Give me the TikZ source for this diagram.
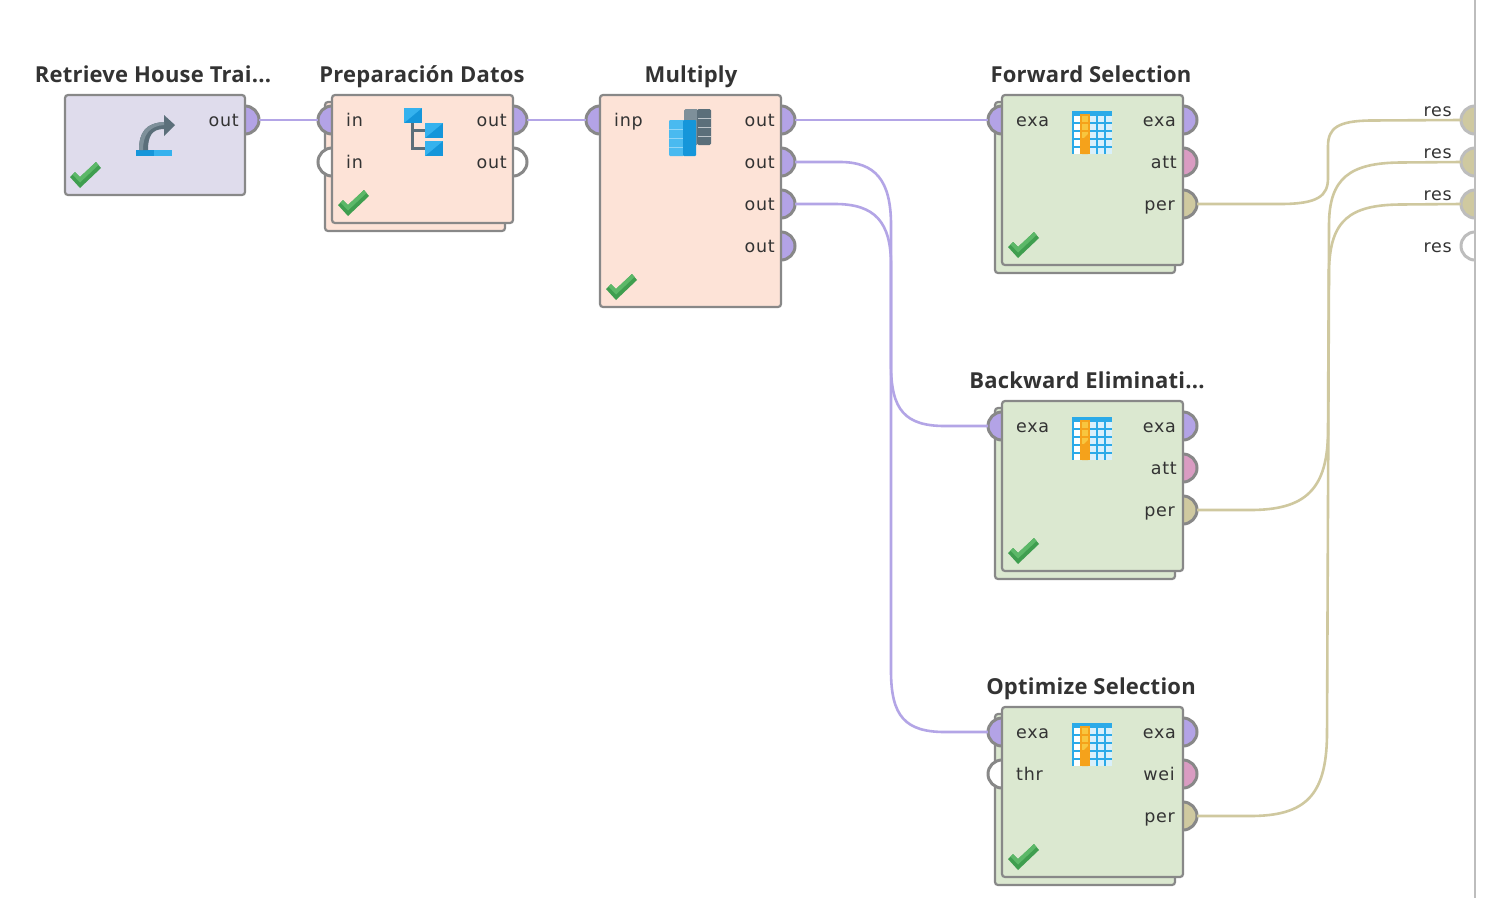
\documentclass[tikz,border=0pt]{standalone}
\usepackage{fontspec}
\setmainfont{DejaVu Sans}
\newfontfamily\titlefont[LetterSpace=1.0]{Open Sans}
\newfontfamily\labelfont[LetterSpace=4.0]{DejaVu Sans}
\definecolor{edgegrey}{HTML}{888888}
\definecolor{resgrey}{HTML}{BDBDBD}
\definecolor{fillblue}{HTML}{DFDCEC}
\definecolor{fillorange}{HTML}{FDE3D7}
\definecolor{fillgreen}{HTML}{DBE8D0}
\definecolor{portpurple}{HTML}{B3A3E6}
\definecolor{portpink}{HTML}{D99CC2}
\definecolor{porttan}{HTML}{CFC9A0}
\definecolor{wirepurple}{HTML}{B3A5E6}
\definecolor{wiretan}{HTML}{CFC89F}
\definecolor{textdark}{HTML}{333333}
\definecolor{okdark}{HTML}{3F9E4F}
\definecolor{oklight}{HTML}{5CB868}
\definecolor{blued}{HTML}{1596DA}
\definecolor{bluel}{HTML}{35B2EE}
\definecolor{slated}{HTML}{5B6F7A}
\definecolor{slatel}{HTML}{7E909A}
\definecolor{cellpale}{HTML}{D9F0FB}
\definecolor{orline}{HTML}{F5A21B}
\definecolor{orcell}{HTML}{F8C63F}
\tikzset{
  x=1pt,y=-1pt,
  opbox/.style={draw=edgegrey,line width=2.2pt,rounded corners=3pt,anchor=north west,inner sep=0pt,outer sep=0pt,minimum width=#1},
  opbox/.default=180pt,
  portc/.style={circle,draw=edgegrey,line width=3pt,inner sep=0pt,outer sep=0pt,minimum size=28pt,fill=#1},
  portc/.default=white,
  resport/.style={circle,draw=resgrey,line width=3pt,inner sep=0pt,outer sep=0pt,minimum size=28pt,fill=#1},
  resport/.default=white,
  optitle/.style={anchor=base,inner sep=0pt,text=textdark,font=\titlefont\fontsize{22}{24}\selectfont\bfseries},
  lab/.style={anchor=base west,inner sep=0pt,text=textdark,font=\labelfont\fontsize{17.5}{20}\selectfont},
  labr/.style={lab,anchor=base east},
  wirep/.style={draw=wirepurple,line width=2.6pt},
  wiret/.style={draw=wiretan,line width=2.6pt},
}
\newcommand{\okmark}[2]{%
  \begin{scope}[shift={(#1,#2)}]
    \fill[okdark] (0,15) -- (10,26) -- (31,6) -- (26,0) -- (10,15) -- (5,10) -- cycle;
    \fill[oklight] (2.5,12.5) -- (10,20.5) -- (28.5,3) -- (26,0) -- (10,15) -- (5,10) -- cycle;
  \end{scope}}
\newcommand{\tableicon}[2]{%
  \begin{scope}[shift={(#1,#2)}]
    \fill[bluel!70!blued] (0,0) rectangle (40,43);
    \foreach \r in {0,...,4}{
      \foreach \xx in {2}{\fill[white] (\xx,5+8*\r) rectangle (\xx+6,11+8*\r);}
      \foreach \xx in {18,26,34}{\fill[cellpale] (\xx,5+8*\r) rectangle (\xx+6,11+8*\r);}
    }
    \fill[orline] (8,3) rectangle (18,43);
    \foreach \r in {0,...,4}{\fill[orcell] (10,5+8*\r) rectangle (16,11+8*\r);}
    \fill[orline] (10,29) -- (16,23) -- (16,43) -- (10,43) -- cycle;
  \end{scope}}
\newcommand{\bluesquare}[2]{%
  \fill[blued] (#1,#2) rectangle ++(18,15);
  \fill[bluel] (#1,#2) -- ++(18,0) -- ++(-18,15) -- cycle;}
\begin{document}
\begin{tikzpicture}
\useasboundingbox (0,0) rectangle (1494,898);
\fill[white] (0,0) rectangle (1494,898);

% stacked sheets
\node[opbox,fill=fillorange,minimum height=129pt] (prepback) at (325,102) {};
\node[opbox,fill=fillgreen,minimum height=171pt] (fwdback) at (995,102) {};
\node[opbox,fill=fillgreen,minimum height=171pt] (bwdback) at (995,408) {};
\node[opbox,fill=fillgreen,minimum height=171pt] (optback) at (995,714) {};

% ports
\node[portc=portpurple] (rout) at (245,120) {};
\node[portc=portpurple] (pin1) at (332,120) {};
\node[portc] (pin2) at (332,162) {};
\node[portc=portpurple] (pout1) at (513,120) {};
\node[portc] (pout2) at (513,162) {};
\node[portc=portpurple] (minp) at (600,120) {};
\node[portc=portpurple] (mout1) at (781,120) {};
\node[portc=portpurple] (mout2) at (781,162) {};
\node[portc=portpurple] (mout3) at (781,204) {};
\node[portc=portpurple] (mout4) at (781,246) {};
\node[portc=portpurple] (fin) at (1002,120) {};
\node[portc=portpurple] (fexa) at (1183,120) {};
\node[portc=portpink] (fatt) at (1183,162) {};
\node[portc=porttan] (fper) at (1183,204) {};
\node[portc=portpurple] (bin) at (1002,426) {};
\node[portc=portpurple] (bexa) at (1183,426) {};
\node[portc=portpink] (batt) at (1183,468) {};
\node[portc=porttan] (bper) at (1183,510) {};
\node[portc=portpurple] (oin) at (1002,732) {};
\node[portc] (othr) at (1002,774) {};
\node[portc=portpurple] (oexa) at (1183,732) {};
\node[portc=portpink] (owei) at (1183,774) {};
\node[portc=porttan] (oper) at (1183,816) {};
\node[resport=porttan] (res1) at (1475,120) {};
\node[resport=porttan] (res2) at (1475,162) {};
\node[resport=porttan] (res3) at (1475,204) {};
\node[resport] (res4) at (1475,246) {};

% panel edge
\fill[white] (1476,0) rectangle (1494,898);
\draw[draw=resgrey,line width=1.6pt] (1475,0) -- (1475,898);

% connectors
\draw[wirep] (rout) -- (pin1);
\draw[wirep] (pout1) -- (minp);
\draw[wirep] (mout1) -- (fin);
\draw[wirep] (mout2.east) -- (840,162) .. controls (875,162) and (891,180) .. (891,225) -- (891,365) .. controls (891,410) and (905,426) .. (945,426) -- (bin.west);
\draw[wirep] (mout3.east) -- (835,204) .. controls (875,204) and (891,222) .. (891,265) -- (891,671) .. controls (891,716) and (905,732) .. (945,732) -- (oin.west);
\draw[wiret] (fper.east) -- (1280,204) .. controls (1318,204) and (1328,196) .. (1328,178) -- (1328,146) .. controls (1328,128) and (1338,121) .. (1370,120.5) -- (res1.west);
\draw[wiret] (bper.east) -- (1250,510) .. controls (1305,510) and (1328,490) .. (1328,430) -- (1329,225) .. controls (1329,178) and (1350,163) .. (1400,162.5) -- (res2.west);
\draw[wiret] (oper.east) -- (1250,816) .. controls (1305,816) and (1326,796) .. (1327,736) -- (1329,270) .. controls (1330,220) and (1350,205) .. (1400,204.5) -- (res3.west);

% main boxes
\node[opbox,fill=fillblue,minimum height=100pt] (retrieve) at (65,95) {};
\node[opbox=181pt,fill=fillorange,minimum height=128pt] (prep) at (332,95) {};
\node[opbox=181pt,fill=fillorange,minimum height=212pt] (multiply) at (600,95) {};
\node[opbox=181pt,fill=fillgreen,minimum height=170pt] (fwd) at (1002,95) {};
\node[opbox=181pt,fill=fillgreen,minimum height=170pt] (bwd) at (1002,401) {};
\node[opbox=181pt,fill=fillgreen,minimum height=170pt] (opt) at (1002,707) {};

% titles
\node[optitle] (tretrieve) at (153,82) {Retrieve House Trai...};
\node[optitle] (tprep) at (422,82) {Preparación Datos};
\node[optitle] (tmult) at (691,82) {Multiply};
\node[optitle] (tfwd) at (1091,82) {Forward Selection};
\node[optitle] (tbwd) at (1087,388) {Backward Eliminati...};
\node[optitle] (topt) at (1091,694) {Optimize Selection};

% port labels
\node[labr] (lrout) at (239,126) {out};
\node[lab] (lpin1) at (346,126) {in};
\node[lab] (lpin2) at (346,168) {in};
\node[labr] (lpout1) at (507,126) {out};
\node[labr] (lpout2) at (507,168) {out};
\node[lab] (lminp) at (614,126) {inp};
\node[labr] (lm1) at (775,126) {out};
\node[labr] (lm2) at (775,168) {out};
\node[labr] (lm3) at (775,210) {out};
\node[labr] (lm4) at (775,252) {out};
\node[lab] (lfin) at (1016,126) {exa};
\node[labr] (lfe) at (1176,126) {exa};
\node[labr] (lfa) at (1177,168) {att};
\node[labr] (lfp) at (1175,210) {per};
\node[lab] (lbin) at (1016,432) {exa};
\node[labr] (lbe) at (1176,432) {exa};
\node[labr] (lba) at (1177,474) {att};
\node[labr] (lbp) at (1175,516) {per};
\node[lab] (loin) at (1016,738) {exa};
\node[lab] (lothr) at (1016,780) {thr};
\node[labr] (loe) at (1176,738) {exa};
\node[labr] (low) at (1175,780) {wei};
\node[labr] (lop) at (1175,822) {per};
\node[labr] (lr1) at (1452,116) {res};
\node[labr] (lr2) at (1452,158) {res};
\node[labr] (lr3) at (1452,200) {res};
\node[labr] (lr4) at (1452,252) {res};

% check marks
\okmark{70}{162}
\okmark{338}{190}
\okmark{606}{274}
\okmark{1008}{232}
\okmark{1008}{538}
\okmark{1008}{844}

% retrieve icon
\fill[blued] (136,150) rectangle (154,156);
\fill[bluel] (154,150) rectangle (172,156);
\fill[slated] (139,150) .. controls (139,132) and (146,123) .. (164,122) -- (164,115) -- (175,125) -- (164,136) -- (164,129) .. controls (152,129) and (148,136) .. (148,150) -- cycle;
\fill[slatel] (139,150) .. controls (139,132) and (146,123) .. (164,122) -- (164,125) .. controls (150,126) and (143,134) .. (143,150) -- cycle;

% tree icon
\draw[slated,line width=3pt] (412,122) -- (412,148) -- (426,148) (412,130) -- (426,130);
\bluesquare{404}{108}
\bluesquare{425}{123}
\bluesquare{425}{141}

% multiply icon
\fill[slatel,rounded corners=1.5pt] (684,109) rectangle (698,145);
\fill[slated,rounded corners=1.5pt] (697,109) rectangle (711,145);
\foreach \k in {118,127,136}{\draw[white!60!slated,line width=.6pt] (698,\k) -- (711,\k);}
\fill[bluel!90!white,rounded corners=1pt] (669,120) rectangle (684,156);
\fill[blued,rounded corners=1pt] (683,120) rectangle (696,156);
\foreach \k in {129,138,147}{\draw[white!45!bluel,line width=.8pt] (669,\k) -- (683,\k);}

% table icons
\tableicon{1072}{111}
\tableicon{1072}{417}
\tableicon{1072}{723}
\end{tikzpicture}
\end{document}
